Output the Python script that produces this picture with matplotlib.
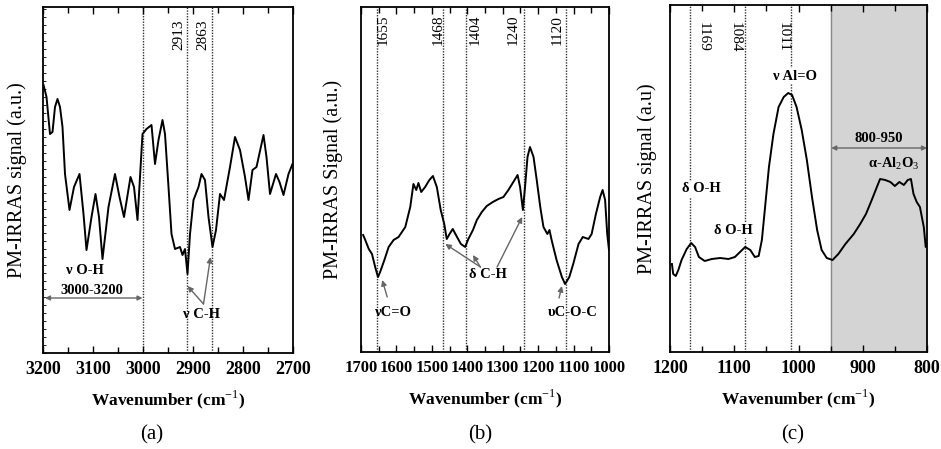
import matplotlib
matplotlib.use("Agg")
import matplotlib.pyplot as plt
from matplotlib.ticker import MultipleLocator

plt.rcParams['font.family'] = ['Liberation Serif', 'DejaVu Serif']
plt.rcParams['mathtext.fontset'] = 'custom'
plt.rcParams['mathtext.rm'] = 'Liberation Serif'
plt.rcParams['mathtext.bf'] = 'Liberation Serif:bold'

# ---- (a) C-H / O-H stretching region ----
wn_a = [3199, 3193, 3186, 3181, 3176, 3171, 3166, 3161, 3156, 3147, 3138, 3127,
        3119, 3113, 3103, 3095, 3088, 3081, 3069, 3056, 3047, 3038, 3025, 3018,
        3011, 3001, 2993, 2983, 2976, 2969, 2961, 2956, 2949, 2943, 2936, 2926,
        2921, 2916, 2911, 2906, 2899, 2889, 2883, 2876, 2869, 2861, 2854, 2846,
        2838, 2826, 2816, 2806, 2796, 2789, 2781, 2773, 2759, 2753, 2746, 2734,
        2727, 2719, 2709, 2701]
sig_a = [268, 256, 219, 221, 246, 254, 246, 226, 179, 143, 166, 179,
         139, 103, 136, 159, 136, 94, 146, 179, 156, 136, 176, 166,
         133, 219, 224, 228, 189, 213, 233, 219, 166, 119, 104, 106,
         98, 104, 79, 119, 153, 166, 179, 173, 136, 106, 123, 159,
         153, 186, 216, 203, 176, 153, 183, 186, 218, 196, 159, 179,
         171, 158, 179, 189]
lines_a = [3000, 2913, 2863]
labels_a = ["", "2913", "2863"]

# ---- (b) fingerprint region ----
wn_b = [1694, 1688, 1678, 1669, 1660, 1652, 1646, 1634, 1622, 1608, 1594, 1575,
        1561, 1552, 1544, 1538, 1530, 1519, 1507, 1497, 1486, 1475, 1465, 1458,
        1450, 1441, 1429, 1418, 1406, 1397, 1384, 1373, 1359, 1345, 1328, 1312,
        1298, 1284, 1270, 1258, 1251, 1243, 1237, 1230, 1223, 1213, 1204, 1194,
        1185, 1174, 1168, 1162, 1148, 1133, 1124, 1112, 1101, 1086, 1074, 1058,
        1049, 1037, 1025, 1018, 1011, 1005, 1000]
sig_b = [117, 112, 103, 98, 85, 75, 80, 92, 105, 112, 115, 125,
         145, 168, 162, 169, 160, 165, 172, 176, 165, 142, 128, 113,
         118, 123, 115, 108, 105, 113, 122, 132, 140, 146, 150, 153,
         155, 162, 170, 177, 165, 142, 165, 195, 205, 195, 172, 145,
         125, 118, 122, 112, 92, 75, 68, 75, 88, 108, 115, 113,
         118, 138, 155, 162, 152, 118, 102]
lines_b = [1655, 1468, 1404, 1240, 1120]
labels_b = ["1655", "1468", "1404", "1240", "1120"]

# ---- (c) Al-O region ----
wn_c = [1197, 1195, 1191, 1187, 1182, 1174, 1167, 1161, 1155, 1146, 1135, 1122,
        1109, 1099, 1091, 1083, 1075, 1068, 1062, 1057, 1052, 1046, 1039, 1031,
        1023, 1016, 1010, 1003, 995, 987, 979, 971, 964, 956, 947, 938,
        927, 914, 904, 895, 886, 878, 873, 865, 857, 850, 843, 836,
        830, 825, 821, 816, 811, 805, 802, 800]
sig_c = [88, 78, 76, 82, 92, 103, 109, 105, 95, 91, 93, 94,
         93, 95, 100, 105, 102, 95, 96, 112, 145, 185, 218, 245,
         255, 259, 257, 245, 222, 192, 155, 122, 102, 94, 92, 98,
         108, 118, 128, 138, 152, 165, 173, 172, 170, 166, 170, 167,
         172, 173, 158, 150, 145, 125, 105, 108]
lines_c = [1169, 1084, 1011]
labels_c = ["1169", "1084", "1011"]
shade_c = (950, 800)

W, H = 941, 449
fig = plt.figure(figsize=(W / 100, H / 100), dpi=100)

ARROW = dict(arrowstyle="-|>", color="#666666", lw=1.0, mutation_scale=8,
             shrinkA=0, shrinkB=0)
DARROW = dict(arrowstyle="<|-|>", color="#666666", lw=1.0, mutation_scale=7,
              shrinkA=0, shrinkB=0)
NOTE = dict(fontsize=10.5, fontweight='bold', ha='center', va='center')


def make_axes(px_left, px_top, px_right, px_bottom):
    return fig.add_axes([px_left / W, 1 - px_bottom / H,
                         (px_right - px_left) / W, (px_bottom - px_top) / H])


def style(ax, xlim, ylim, major, minor, ylabel, ylab_x, tick_fs):
    ax.set_xlim(*xlim)
    ax.set_ylim(*ylim)
    ax.xaxis.set_major_locator(MultipleLocator(major))
    ax.xaxis.set_minor_locator(MultipleLocator(minor))
    ax.tick_params(axis='x', which='both', direction='in', top=True,
                   width=1.0, pad=6)
    ax.tick_params(axis='x', which='major', length=5, labelsize=tick_fs)
    ax.tick_params(axis='x', which='minor', length=4)
    ax.set_yticks([])
    for lbl in ax.get_xticklabels():
        lbl.set_fontweight('bold')
    for sp in ax.spines.values():
        sp.set_linewidth(1.3)
    ax.set_xlabel("Wavenumber (cm$^{-1}$)", fontsize=12.5, fontweight='bold')
    ax.xaxis.set_label_coords(0.5, -0.102)
    ax.set_ylabel(ylabel, fontsize=14.5)
    ax.yaxis.set_label_coords(ylab_x, 0.5)


def vlines(ax, xs, ymax):
    for x in xs:
        ax.plot([x, x], [0, ymax], color='#333333', lw=1.0,
                linestyle=(0, (1, 1)), zorder=1)


# ---------- panel (a) ----------
ax = make_axes(43, 7, 293, 353)
style(ax, (3200, 2700), (0, 346), 100, 50, "PM-IRRAS signal (a.u.)", -0.064, 13)
ax.yaxis.set_minor_locator(MultipleLocator(8))
ax.tick_params(axis='y', which='minor', direction='in', length=2, left=True)
vlines(ax, lines_a, 346)
ax.plot(wn_a, sig_a, color='black', lw=1.4, zorder=3)
for x, t in zip([2929, 2881], labels_a[1:]):
    ax.text(x, 318, t, rotation=90, fontsize=11, ha='center', va='center')
ax.text(3116, 83, "ν O-H", **NOTE)
ax.text(3103, 63, "3000-3200", **NOTE)
ax.annotate("", xy=(3196, 55), xytext=(3001, 55), arrowprops=DARROW)
ax.text(2883, 38, "ν C-H", **NOTE)
ax.annotate("", xy=(2911, 67), xytext=(2879, 49), arrowprops=ARROW)
ax.annotate("", xy=(2865, 96), xytext=(2879, 49), arrowprops=ARROW)
fig.text(152 / W, 1 - 435 / H, "(a)", fontsize=15, ha='center', va='center')

# ---------- panel (b) ----------
ax = make_axes(361, 7, 609, 352)
style(ax, (1700, 1000), (0, 345), 100, 50, "PM-IRRAS Signal (a.u.)", -0.073, 12)
vlines(ax, lines_b, 345)
ax.plot(wn_b, sig_b, color='black', lw=1.4, zorder=3)
for x, t in zip([1637, 1482, 1378, 1271, 1147], labels_b):
    ax.text(x, 322, t, rotation=90, fontsize=11, ha='center', va='center')
ax.text(1609, 39, "νC=O", **NOTE)
ax.annotate("", xy=(1640, 72), xytext=(1626, 55), arrowprops=ARROW)
ax.text(1341, 77, "δ C-H", **NOTE)
ax.annotate("", xy=(1462, 108), xytext=(1363, 85), arrowprops=ARROW)
ax.annotate("", xy=(1384, 97), xytext=(1363, 85), arrowprops=ARROW)
ax.annotate("", xy=(1245, 135), xytext=(1316, 85), arrowprops=ARROW)
ax.text(1101, 39, "υC-O-C", **NOTE)
ax.annotate("", xy=(1133, 66), xytext=(1141, 54), arrowprops=ARROW)
fig.text(480 / W, 1 - 435 / H, "(b)", fontsize=15, ha='center', va='center')

# ---------- panel (c) ----------
ax = make_axes(670, 5, 927, 352)
style(ax, (1200, 800), (0, 347), 100, 50, "PM-IRRAS signal (a.u)", -0.05, 13)
ax.axvspan(*shade_c, color='#d4d4d4', zorder=0)
ax.axvline(shade_c[0], color='#888888', lw=1.0, zorder=0.5)
vlines(ax, lines_c, 347)
ax.plot(wn_c, sig_c, color='black', lw=1.4, zorder=3)
for x, t in zip([1149, 1099, 1024], labels_c):
    ax.text(x, 315, t, rotation=270, fontsize=11, ha='center', va='center')
BOX = dict(facecolor='white', edgecolor='none', pad=1)
ax.text(1006, 276, "ν Al=O", bbox=BOX, zorder=4, **NOTE)
ax.text(1151, 163, "δ O-H", bbox=BOX, zorder=4, **NOTE)
ax.text(1101, 122, "δ O-H", bbox=BOX, zorder=4, **NOTE)
ax.text(875, 213, "800-950", **NOTE)
ax.annotate("", xy=(949, 204), xytext=(800, 204), arrowprops=DARROW)
ax.text(852, 188, "α-Al$_2$O$_3$", **NOTE)
fig.text(793 / W, 1 - 435 / H, "(c)", fontsize=15, ha='center', va='center')

fig.savefig("out.png", dpi=100)
